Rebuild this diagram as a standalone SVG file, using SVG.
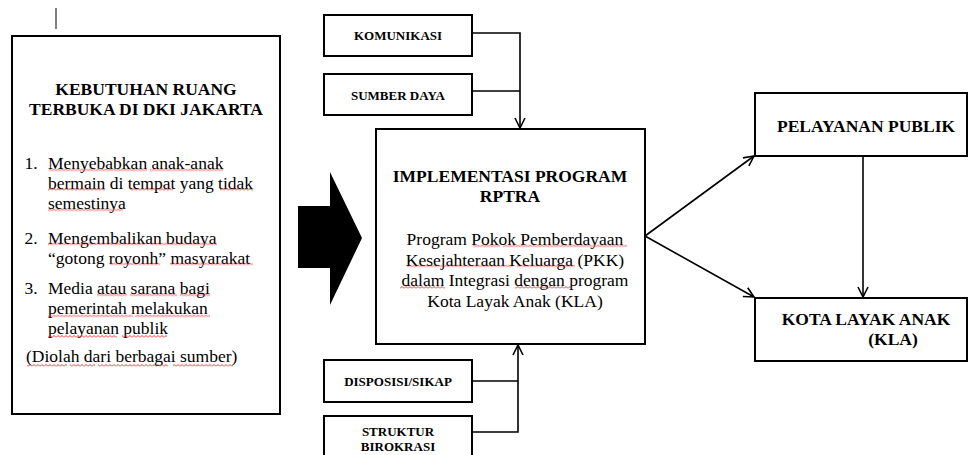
<svg xmlns="http://www.w3.org/2000/svg" width="969" height="455" viewBox="0 0 969 455">
<style>
.box{fill:#fff;stroke:#000;stroke-width:2}
text{font-family:'Liberation Serif','Times New Roman','DejaVu Serif',serif;font-size:17.5px;fill:#000}
.b{font-weight:bold}
.s{font-size:13px;font-weight:bold}
.c{text-anchor:middle}
.ln{fill:none;stroke:#000;stroke-width:1.6}
.sq{fill:url(#wave)}
</style>
<defs>
<pattern id="wave" width="4" height="3" patternUnits="userSpaceOnUse">
<path d="M0,2.5 L2,0.5 L4,2.5" fill="none" stroke="#e02020" stroke-width="0.9"/>
</pattern>
<marker id="ah" viewBox="0 0 12 12" refX="11" refY="6" markerWidth="12" markerHeight="12" markerUnits="userSpaceOnUse" orient="auto">
<path d="M1,1 L11,6 L1,11" fill="none" stroke="#000" stroke-width="1.6"/>
</marker>
</defs>
<rect width="969" height="455" fill="#fff"/>
<line x1="56" y1="8" x2="56" y2="29" stroke="#000" stroke-width="1"/>

<g font-family="Liberation Serif, Times New Roman, serif">
<g id="kebutuhan">
<rect class="box" x="12" y="36" width="268" height="378"/>
<text class="b c" x="146" y="95">KEBUTUHAN RUANG</text>
<text class="b c" x="146" y="115">TERBUKA DI DKI JAKARTA</text>
<text x="24.5" y="168.5">1.</text>
<text x="48" y="168.5">Menyebabkan anak-anak</text>
<text x="48" y="188.5">bermain di tempat yang tidak</text>
<text x="48" y="208.5">semestinya</text>
<text x="24.5" y="243.5">2.</text>
<text x="48" y="243.5">Mengembalikan budaya</text>
<text x="48" y="263.5">“gotong royonh” masyarakat</text>
<text x="24.5" y="293.5">3.</text>
<text x="48" y="293.5">Media atau sarana bagi</text>
<text x="48" y="313.5">pemerintah melakukan</text>
<text x="48" y="333.5">pelayanan publik</text>
<text x="26" y="362">(Diolah dari berbagai sumber)</text>
</g>

<g id="panah-besar">
<polygon points="298,206 330,206 330,172 362,238 330,305 330,268 298,268" fill="#000"/>
</g>

<g id="implementasi">
<rect class="box" x="376" y="129" width="269" height="215"/>
<text class="b c" x="510" y="182">IMPLEMENTASI PROGRAM</text>
<text class="b c" x="510" y="202">RPTRA</text>
<text class="c" x="515" y="245">Program Pokok Pemberdayaan</text>
<text class="c" x="515" y="265.7">Kesejahteraan Keluarga (PKK)</text>
<text class="c" x="515" y="286.4">dalam Integrasi dengan program</text>
<text class="c" x="515" y="307">Kota Layak Anak (KLA)</text>
</g>

<g id="komunikasi">
<rect class="box" x="324" y="15" width="148" height="41"/>
<text class="s c" x="398" y="40">KOMUNIKASI</text>
</g>
<g id="sumber-daya">
<rect class="box" x="324" y="74" width="148" height="41"/>
<text class="s c" x="398" y="100">SUMBER DAYA</text>
</g>
<g id="disposisi">
<rect class="box" x="324" y="360" width="148" height="42"/>
<text class="s c" x="398" y="386">DISPOSISI/SIKAP</text>
</g>
<g id="struktur">
<rect class="box" x="324" y="416" width="148" height="50"/>
<text class="s c" x="398" y="436">STRUKTUR</text>
<text class="s c" x="398" y="450.5">BIROKRASI</text>
</g>

<g id="pelayanan">
<rect class="box" x="755" y="93" width="212" height="63"/>
<text class="b c" x="866" y="132">PELAYANAN PUBLIK</text>
</g>
<g id="kla">
<rect class="box" x="755" y="298" width="212" height="63"/>
<text class="b c" x="866" y="325">KOTA LAYAK ANAK</text>
<text class="b c" x="893" y="345">(KLA)</text>
</g>
</g>

<g id="connectors">
<path class="ln" d="M472,33 H520 V128" marker-end="url(#ah)"/>
<path class="ln" d="M472,91 H520"/>
<path class="ln" d="M472,432 H518 V345" marker-end="url(#ah)"/>
<path class="ln" d="M472,381 H518"/>
<path class="ln" d="M645,236 L754,156" marker-end="url(#ah)"/>
<path class="ln" d="M645,236 L754,297" marker-end="url(#ah)"/>
<path class="ln" d="M863,156 V297" marker-end="url(#ah)"/>
</g>

<g id="spellcheck">
<rect class="sq" x="49" width="98" height="3" transform="translate(0,168.5)"/>
<rect class="sq" x="150" width="73" height="3" transform="translate(0,168.5)"/>
<rect class="sq" x="48" width="57" height="3" transform="translate(0,188)"/>
<rect class="sq" x="130" width="43" height="3" transform="translate(0,188)"/>
<rect class="sq" x="220" width="33" height="3" transform="translate(0,188)"/>
<rect class="sq" x="48" width="75" height="3" transform="translate(0,208.5)"/>
<rect class="sq" x="48" width="99" height="3" transform="translate(0,242.5)"/>
<rect class="sq" x="150" width="67" height="3" transform="translate(0,242.5)"/>
<rect class="sq" x="110" width="50" height="3" transform="translate(0,262.5)"/>
<rect class="sq" x="170" width="83" height="3" transform="translate(0,262.5)"/>
<rect class="sq" x="97" width="30" height="3" transform="translate(0,293.5)"/>
<rect class="sq" x="130" width="47" height="3" transform="translate(0,293.5)"/>
<rect class="sq" x="180" width="30" height="3" transform="translate(0,293.5)"/>
<rect class="sq" x="48" width="85" height="3" transform="translate(0,314.5)"/>
<rect class="sq" x="135" width="75" height="3" transform="translate(0,314.5)"/>
<rect class="sq" x="48" width="69" height="3" transform="translate(0,335)"/>
<rect class="sq" x="122" width="45" height="3" transform="translate(0,335)"/>
<rect class="sq" x="27" width="40" height="3" transform="translate(0,364)"/>
<rect class="sq" x="70" width="25" height="3" transform="translate(0,364)"/>
<rect class="sq" x="98" width="70" height="3" transform="translate(0,364)"/>
<rect class="sq" x="173" width="60" height="3" transform="translate(0,364)"/>
<rect class="sq" x="473" width="27" height="3" transform="translate(0,244.5)"/>
<rect class="sq" x="503" width="124" height="3" transform="translate(0,244.5)"/>
<rect class="sq" x="407" width="106" height="3" transform="translate(0,264.5)"/>
<rect class="sq" x="517" width="58" height="3" transform="translate(0,264.5)"/>
<rect class="sq" x="400" width="45" height="3" transform="translate(0,286)"/>
<rect class="sq" x="515" width="57" height="3" transform="translate(0,286)"/>
</g>
</svg>
